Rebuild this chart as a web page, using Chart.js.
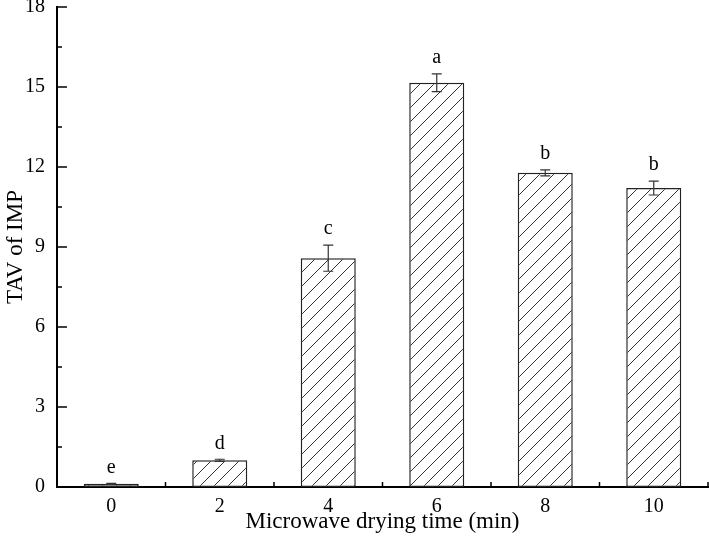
<!DOCTYPE html>
<html>
<head>
<meta charset="utf-8">
<script src="https://cdn.jsdelivr.net/npm/chart.js@4.4.1/dist/chart.umd.min.js"></script>
<style>
  html, body { margin: 0; padding: 0; background: #fff; }
  #wrap { width: 709px; height: 545px; }
</style>
</head>
<body>
<div id="wrap"><canvas id="chart" width="709" height="545"></canvas></div>
<script>
// valores
const times = ['0', '2', '4', '6', '8', '10'];
const tav = [0.12, 1.0, 8.58, 15.16, 11.78, 11.21];
const tavErr = [0.02, 0.04, 0.49, 0.33, 0.11, 0.26];
const letters = ['e', 'd', 'c', 'a', 'b', 'b'];

const serif = "'Liberation Serif', 'Times New Roman', serif";

// padrão de hachura diagonal
function makeHatch() {
    const size = 14;
    const c = document.createElement('canvas');
    c.width = size;
    c.height = size;
    const g = c.getContext('2d');
    g.fillStyle = '#fff';
    g.fillRect(0, 0, size, size);
    g.strokeStyle = '#333';
    g.lineWidth = 1;
    g.beginPath();
    g.moveTo(0, size); g.lineTo(size, 0);
    g.moveTo(-2, 2); g.lineTo(2, -2);
    g.moveTo(size - 2, size + 2); g.lineTo(size + 2, size - 2);
    g.stroke();
    return document.getElementById('chart').getContext('2d').createPattern(c, 'repeat');
}

const extras = {
    id: 'extras',
    afterDatasetsDraw(chart) {
        const ctx = chart.ctx;
        const x = chart.scales.x;
        const y = chart.scales.y;
        ctx.save();
        // barras de erro
        ctx.strokeStyle = '#333';
        ctx.lineWidth = 1.2;
        tav.forEach((v, i) => {
            const px = x.getPixelForValue(i);
            const top = y.getPixelForValue(v + tavErr[i]);
            const bot = y.getPixelForValue(v - tavErr[i]);
            ctx.beginPath();
            ctx.moveTo(px, top); ctx.lineTo(px, bot);
            ctx.moveTo(px - 5, top); ctx.lineTo(px + 5, top);
            ctx.moveTo(px - 5, bot); ctx.lineTo(px + 5, bot);
            ctx.stroke();
            // letras de significância
            ctx.fillStyle = '#000';
            ctx.font = '20px ' + serif;
            ctx.textAlign = 'center';
            ctx.textBaseline = 'middle';
            ctx.fillText(letters[i], px, top - 16);
        });
        ctx.restore();
    },
    afterDraw(chart) {
        const ctx = chart.ctx;
        const x = chart.scales.x;
        const y = chart.scales.y;
        ctx.save();
        ctx.strokeStyle = '#000';
        ctx.lineWidth = 1.5;
        ctx.beginPath();
        // ticks do eixo x (para dentro, entre categorias)
        const step = x.width / times.length;
        for (let i = 0; i <= times.length; i++) {
            const px = x.left + i * step;
            ctx.moveTo(px, x.top); ctx.lineTo(px, x.top - 5);
        }
        // ticks do eixo y (maiores a cada 3, menores a cada 1.5)
        for (let v = 0; v <= 18; v += 1.5) {
            const py = y.getPixelForValue(v);
            const len = (v % 3 === 0) ? 10 : 5;
            ctx.moveTo(y.right, py); ctx.lineTo(y.right + len, py);
        }
        ctx.stroke();
        ctx.restore();
    }
};

const ctx = document.getElementById('chart').getContext('2d');
const myChart = new Chart(ctx, {
    type: 'bar',
    data: {
        labels: times,
        datasets: [{
            data: tav,
            backgroundColor: makeHatch(),
            borderColor: '#222',
            borderWidth: 1.5,
            borderSkipped: false,
            categoryPercentage: 1,
            barPercentage: 0.507
        }]
    },
    options: {
        responsive: false,
        animation: false,
        layout: { padding: { top: 7, right: 1, left: 0, bottom: 0 } },
        plugins: {
            legend: { display: false },
            tooltip: { enabled: false }
        },
        scales: {
            x: {
                type: 'category',
                offset: true,
                grid: { display: false, drawTicks: false },
                border: { display: true, color: '#000', width: 2 },
                ticks: {
                    color: '#000',
                    font: { family: serif, size: 20 },
                    padding: 8,
                    maxRotation: 0
                },
                title: {
                    display: true,
                    text: 'Microwave drying time (min)',
                    color: '#000',
                    font: { family: serif, size: 23 },
                    padding: { top: 0, bottom: 9 }
                },
                afterFit(s) {
                    s.height = 58;
                    s.paddingLeft = 0;
                    s.paddingRight = 0;
                }
            },
            y: {
                min: 0,
                max: 18,
                grid: { display: false, drawTicks: false },
                border: { display: true, color: '#000', width: 2 },
                ticks: {
                    stepSize: 3,
                    color: '#000',
                    font: { family: serif, size: 20 },
                    padding: 12
                },
                title: {
                    display: true,
                    text: 'TAV of IMP',
                    color: '#000',
                    font: { family: serif, size: 23 },
                    padding: { top: 2, bottom: 0 }
                },
                afterFit(s) {
                    s.width = 57;
                    s.paddingTop = 0;
                    s.paddingBottom = 0;
                }
            }
        }
    },
    plugins: [extras]
});
</script>
</body>
</html>
